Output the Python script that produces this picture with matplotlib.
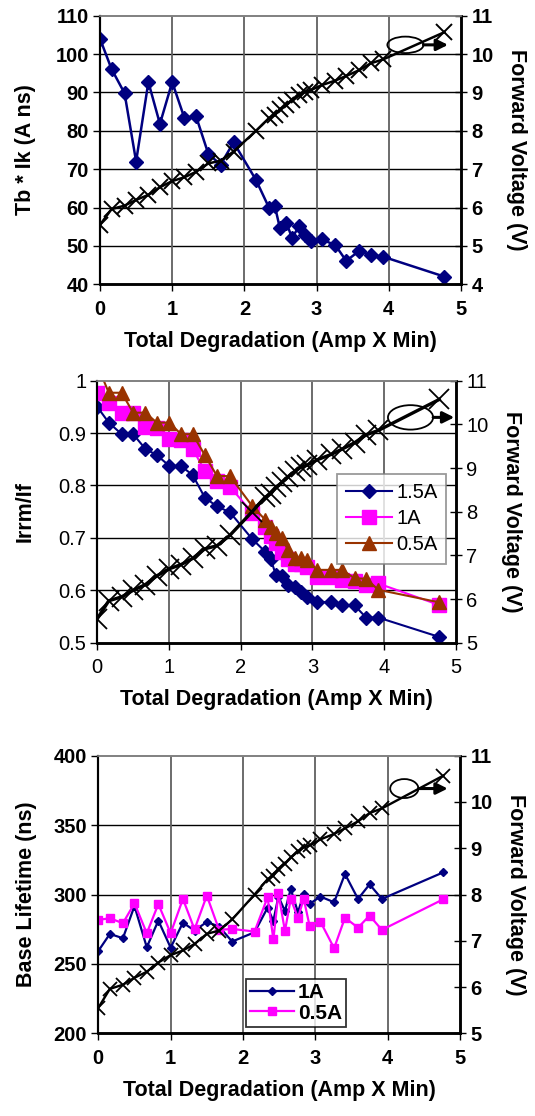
import matplotlib
matplotlib.use("Agg")
import matplotlib.pyplot as plt
from matplotlib.patches import Ellipse

plt.rcParams['font.family'] = ['Liberation Sans', 'DejaVu Sans']

# ---------------- data ----------------
degradation = [0, 0.16, 0.34, 0.50, 0.67, 0.83, 1.00, 1.17, 1.33, 1.50, 1.67, 1.85,
               2.16, 2.34, 2.42, 2.49, 2.58, 2.66, 2.76, 2.84, 2.92, 3.07, 3.26,
               3.41, 3.59, 3.75, 3.92, 4.77]

forward_voltage = [5.55, 5.96, 6.05, 6.20, 6.33, 6.53, 6.69, 6.79, 6.93, 7.15, 7.22, 7.46,
                   8.00, 8.33, 8.41, 8.56, 8.67, 8.80, 8.93, 9.02, 9.06, 9.19, 9.31,
                   9.43, 9.58, 9.76, 9.86, 10.57]

tb_ik = [104, 96.1, 89.8, 72.0, 92.7, 81.8, 92.7, 83.3, 83.8, 74.0, 71.2, 77.0,
         67.2, 60.0, 60.5, 54.8, 56.1, 52.1, 55.2, 52.8, 51.2, 51.7, 50.2,
         46.1, 48.7, 47.6, 47.2, 42.0]

irrm_15A = [0.950, 0.920, 0.898, 0.898, 0.870, 0.858, 0.838, 0.837, 0.820, 0.777, 0.760, 0.749,
            0.698, 0.674, 0.659, 0.630, 0.628, 0.610, 0.607, 0.597, 0.587, 0.578, 0.577,
            0.571, 0.571, 0.548, 0.548, 0.511]
irrm_1A = [0.977, 0.957, 0.939, 0.939, 0.911, 0.909, 0.888, 0.887, 0.870, 0.828, 0.809, 0.798,
           0.748, 0.721, 0.704, 0.690, 0.674, 0.660, 0.651, 0.650, 0.645, 0.626, 0.626,
           0.620, 0.618, 0.610, 0.613, 0.572]
irrm_05A = [1.03, 0.977, 0.977, 0.939, 0.939, 0.920, 0.920, 0.898, 0.898, 0.858, 0.818, 0.818,
            0.761, 0.735, 0.721, 0.710, 0.699, 0.677, 0.661, 0.661, 0.658, 0.639, 0.639,
            0.639, 0.623, 0.622, 0.601, 0.577]

life_1A = [259.3, 271.6, 268.5, 291.7, 262.0, 281.2, 261.7, 279.7, 274.0, 280.2, 276.9, 266.1,
           272.8, 290.5, 281.0, 298.5, 288.1, 304.0, 287.2, 300.4, 293.2, 298.5, 294.4,
           314.8, 296.8, 307.3, 296.8, 316.0]
life_05A = [281.7, 282.9, 279.3, 293.7, 272.1, 293.1, 272.1, 296.8, 274.9, 299.2, 274.5, 275.2,
            273.3, 298.0, 267.7, 300.9, 273.7, 296.8, 283.3, 296.8, 277.6, 280.5, 261.3,
            283.3, 276.1, 284.8, 274.5, 296.6]

x_ticks = [0, 1, 2, 3, 4, 5]
xlabel = "Total Degradation (Amp X Min)"
vlabel = "Forward Voltage (V)"

NAVY = '#000080'
MAG = '#FF00FF'
BROWN = '#993300'

W, H = 535, 1116
fig = plt.figure(figsize=(W / 100, H / 100), dpi=100)

TFS = 14.5   # tick font size
LFS = 15.5   # axis label font size


def make_axes(l, r, t, b):
    return fig.add_axes([l / W, 1 - b / H, (r - l) / W, (b - t) / H])


def style(ax, ax2, ylim, yticks, vlim, vticks, bold_ticks):
    fw = 'bold' if bold_ticks else 'normal'
    ax.set_xlim(0, 5)
    ax.set_ylim(*ylim)
    ax.set_xticks(x_ticks)
    ax.set_yticks(yticks)
    ax2.set_ylim(*vlim)
    ax2.set_yticks(vticks)
    ax.set_xticklabels([str(v) for v in x_ticks], fontsize=TFS, fontweight=fw)
    ax.set_yticklabels([('%g' % v) for v in yticks], fontsize=TFS, fontweight=fw)
    ax2.set_yticklabels([('%g' % v) for v in vticks], fontsize=TFS, fontweight=fw)
    ax.grid(False)
    for y in yticks[1:-1]:
        ax.axhline(y, color='black', lw=1.0, zorder=0)
    for x in x_ticks[1:-1]:
        ax.axvline(x, color='#606060', lw=1.3, zorder=0)
    ax.tick_params(axis='x', direction='out', length=5, width=1, pad=6, colors='black')
    ax.tick_params(axis='y', direction='out', length=5, width=1, pad=3)
    ax2.tick_params(axis='y', direction='inout', length=9, width=1, pad=3)
    for a in (ax, ax2):
        a.spines['top'].set_color('#808080')
        a.spines['top'].set_linewidth(1.2)
        a.spines['left'].set_linewidth(1.5)
        a.spines['right'].set_linewidth(1.8)
        a.spines['bottom'].set_linewidth(1.8)
    ax.set_xlabel(xlabel, fontsize=LFS, fontweight='bold', labelpad=9)
    ax2.set_ylabel(vlabel, fontsize=LFS, fontweight='bold', rotation=270, labelpad=24)


def marker_ellipse(ax2, cx, cy, w, h, x_end):
    ax2.add_patch(Ellipse((cx, cy), w, h, fill=False, edgecolor='black', lw=1.3, zorder=6))
    ax2.annotate('', xy=(x_end, cy), xytext=(cx + w / 2, cy), annotation_clip=False,
                 arrowprops=dict(arrowstyle='-|>', color='black', lw=2.2, mutation_scale=17,
                                 shrinkA=0, shrinkB=0), zorder=6)


# ---------------- panel 1 ----------------
ax = make_axes(100, 461, 15.7, 284.3)
ax2 = ax.twinx()
ax.plot(degradation, tb_ik, color=NAVY, lw=1.8, marker='D', ms=7.5, mfc=NAVY, mec=NAVY, zorder=3)
ax2.plot(degradation, forward_voltage, color='black', lw=1.8, marker='x', ms=11, mew=1.4, zorder=4)
style(ax, ax2, (40, 110), [40, 50, 60, 70, 80, 90, 100, 110], (4, 11), [4, 5, 6, 7, 8, 9, 10, 11], True)
ax.set_ylabel("Tb * Ik (A ns)", fontsize=LFS, fontweight='bold', labelpad=14)
marker_ellipse(ax2, 4.23, 10.24, 0.5, 0.43, 4.82)

# ---------------- panel 2 ----------------
ax = make_axes(97.3, 455.7, 380.7, 642.7)
ax2 = ax.twinx()
l1, = ax.plot(degradation, irrm_15A, color=NAVY, lw=1.5, marker='D', ms=7.5, mfc=NAVY, mec=NAVY,
              label='1.5A', zorder=3)
l2, = ax.plot(degradation, irrm_1A, color=MAG, lw=1.5, marker='s', ms=9.5, mfc=MAG, mec=MAG,
              label='1A', zorder=3)
l3, = ax.plot(degradation, irrm_05A, color=BROWN, lw=1.5, marker='^', ms=10, mfc=BROWN, mec=BROWN,
              label='0.5A', zorder=3)
ax2.plot(degradation, forward_voltage, color='black', lw=2.4, marker='x', ms=15, mew=1.3, zorder=4)
style(ax, ax2, (0.5, 1.0), [0.5, 0.6, 0.7, 0.8, 0.9, 1.0], (5, 11), [5, 6, 7, 8, 9, 10, 11], False)
ax.set_yticklabels(['0.5', '0.6', '0.7', '0.8', '0.9', '1'], fontsize=TFS)
ax.set_ylabel("Irrm/If", fontsize=LFS, fontweight='bold', labelpad=16)
marker_ellipse(ax2, 4.37, 10.16, 0.63, 0.56, 4.98)
leg = ax2.legend([l1, l2, l3], ['1.5A', '1A', '0.5A'], loc='upper left',
                 bbox_to_anchor=((336.7 - 97.3) / 358.4, 1 - (474.3 - 380.7) / 262),
                 fontsize=14.5, frameon=True, fancybox=False, edgecolor='#808080',
                 handlelength=2.3, handletextpad=0.2, borderpad=0.45, labelspacing=0.35,
                 borderaxespad=0)
leg.get_frame().set_linewidth(1.3)
leg.set_zorder(10)

# ---------------- panel 3 ----------------
ax = make_axes(98.3, 460, 755.7, 1033.3)
ax2 = ax.twinx()
m1, = ax.plot(degradation, life_1A, color=NAVY, lw=1.6, marker='D', ms=4.5, mfc=NAVY, mec=NAVY,
              label='1A', zorder=3)
m2, = ax.plot(degradation, life_05A, color=MAG, lw=1.6, marker='s', ms=5.5, mfc=MAG, mec=MAG,
              label='0.5A', zorder=3)
ax2.plot(degradation, forward_voltage, color='black', lw=1.7, marker='x', ms=10, mew=1.3, zorder=4)
style(ax, ax2, (200, 400), [200, 250, 300, 350, 400], (5, 11), [5, 6, 7, 8, 9, 10, 11], True)
ax.set_ylabel("Base Lifetime (ns)", fontsize=LFS, fontweight='bold', labelpad=12)
marker_ellipse(ax2, 4.23, 10.29, 0.39, 0.41, 4.83)
leg = ax2.legend([m1, m2], ['1A', '0.5A'], loc='upper left',
                 bbox_to_anchor=((245.7 - 98.3) / 361.7, 1 - (979.3 - 755.7) / 277.6),
                 prop={'size': 15, 'weight': 'bold'}, frameon=True, fancybox=False,
                 edgecolor='black', handlelength=2.1, handletextpad=0.2, borderpad=0.2,
                 labelspacing=0.05, borderaxespad=0)
leg.get_frame().set_linewidth(1.3)
leg.set_zorder(10)

fig.savefig('out.png', dpi=100)
